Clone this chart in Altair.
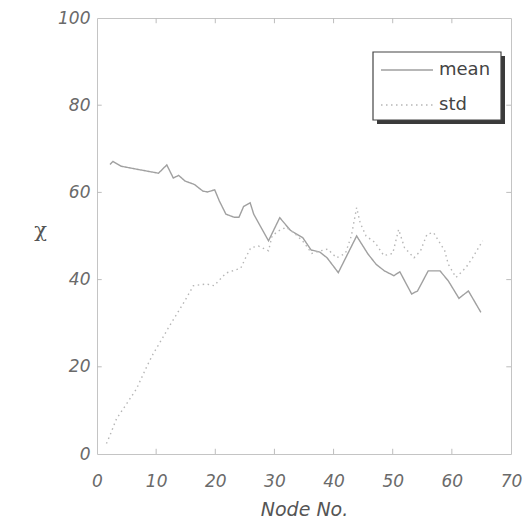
import altair as alt
import pandas as pd

# ---- data ----
mean_x = [2.2, 2.7, 4.1, 6.0, 8.8, 10.4, 11.8, 12.9, 13.8, 14.9, 16.5, 17.9, 18.7, 19.9,
          20.7, 21.8, 23.2, 24.0, 24.8, 25.9, 26.5, 27.6, 29.0, 30.9, 32.7, 34.8, 36.2,
          37.7, 38.9, 40.8, 43.9, 45.8, 47.2, 48.6, 50.2, 51.2, 53.2, 54.2, 56.0, 58.0,
          59.4, 61.2, 62.8, 64.9]
mean_y = [66.4, 67.1, 66.0, 65.5, 64.8, 64.4, 66.3, 63.3, 63.9, 62.6, 61.8, 60.3, 60.1, 60.6,
          58.0, 55.0, 54.3, 54.3, 56.8, 57.6, 55.0, 52.3, 48.9, 54.2, 51.3, 49.6, 46.8,
          46.3, 45.0, 41.6, 50.0, 45.9, 43.5, 42.0, 40.9, 41.8, 36.7, 37.4, 42.0, 42.0,
          39.7, 35.7, 37.4, 32.5]

std_x = [1.6, 2.2, 3.3, 5.2, 6.7, 8.5, 9.5, 11.0, 12.1, 14.7, 16.3, 18.5, 19.8, 21.8, 24.3,
         25.2, 26.0, 27.3, 29.0, 29.6, 30.6, 32.0, 33.5, 35.0, 36.3, 37.5, 39.0, 40.5,
         42.0, 43.0, 43.9, 44.5, 45.5, 47.0, 48.5, 50.0, 51.0, 52.0, 53.6, 54.7, 55.8,
         56.9, 58.8, 59.4, 60.7, 62.4, 63.5, 65.2]
std_y = [2.4, 4.3, 8.1, 11.9, 15.0, 20.3, 23.0, 26.4, 29.0, 34.8, 38.6, 39.0, 38.6, 41.5, 42.6,
         45.2, 47.3, 47.7, 46.6, 50.0, 51.1, 52.0, 50.5, 48.5, 46.0, 46.5, 47.0, 45.0,
         46.0, 50.0, 56.5, 53.0, 50.0, 48.5, 45.5, 46.0, 51.5, 47.3, 45.0, 46.6, 50.4,
         50.8, 46.6, 43.5, 40.5, 42.8, 45.0, 48.9]

series_names = ["mean", "std"]
series_colors = ["#a0a0a0", "#b6b6b6"]
series_dash = [[1, 0], [1.5, 3.5]]
x_ticks = [0, 10, 20, 30, 40, 50, 60, 70]
y_ticks = [0, 20, 40, 60, 80, 100]

rows = []
for i, (a, b) in enumerate(zip(mean_x, mean_y)):
    rows.append({"node": a, "val": b, "series": "mean", "ord": i})
for i, (a, b) in enumerate(zip(std_x, std_y)):
    rows.append({"node": a, "val": b, "series": "std", "ord": i})
df = pd.DataFrame(rows)

W, H = 414, 436
FONT = "DejaVu Sans"

xs = alt.Scale(domain=[0, 70], nice=False, zero=False)
ys = alt.Scale(domain=[0, 100], nice=False, zero=False)

lines = alt.Chart(df).mark_line(strokeWidth=1.4).encode(
    x=alt.X("node:Q", scale=xs, axis=alt.Axis(
        title="Node No.", values=x_ticks, ticks=False, domain=False, grid=False,
        labelFlush=False, labelOverlap=False,
        labelPadding=19, titlePadding=11, labelFontStyle="italic", titleFontStyle="italic",
        labelFontSize=17, titleFontSize=19, labelColor="#6a6a6a", titleColor="#555555",
        labelFont=FONT, titleFont=FONT, titleFontWeight="normal")),
    y=alt.Y("val:Q", scale=ys, axis=alt.Axis(
        title="χ", values=y_ticks, ticks=False, domain=False, grid=False,
        labelFlush=False, labelOverlap=False,
        labelPadding=7, labelFontStyle="italic", labelFontSize=17, labelColor="#6a6a6a",
        labelFont=FONT, titleFont="DejaVu Serif", titleFontSize=21, titleColor="#555555",
        titleFontWeight="normal", titleAngle=0, titleX=-57, titleY=212,
        titleAlign="center", titleBaseline="middle")),
    color=alt.Color("series:N", scale=alt.Scale(domain=series_names, range=series_colors),
                    legend=None),
    strokeDash=alt.StrokeDash("series:N", scale=alt.Scale(domain=series_names, range=series_dash),
                              legend=None),
    order="ord:Q",
)

# inward tick marks on the frame
tick_df_x = pd.DataFrame({"t": x_ticks[1:-1]})
tick_df_y = pd.DataFrame({"t": y_ticks[1:-1]})
tick_col = "#bdbdbd"
bt = alt.Chart(tick_df_x).mark_rule(color=tick_col).encode(
    x=alt.X("t:Q", scale=xs), y=alt.datum(0, scale=ys), y2=alt.datum(1.2))
tt = alt.Chart(tick_df_x).mark_rule(color=tick_col).encode(
    x=alt.X("t:Q", scale=xs), y=alt.datum(100, scale=ys), y2=alt.datum(98.8))
lt = alt.Chart(tick_df_y).mark_rule(color=tick_col).encode(
    y=alt.Y("t:Q", scale=ys), x=alt.datum(0, scale=xs), x2=alt.datum(0.8))
rt = alt.Chart(tick_df_y).mark_rule(color=tick_col).encode(
    y=alt.Y("t:Q", scale=ys), x=alt.datum(70, scale=xs), x2=alt.datum(69.2))

# hand-built legend (box with drop shadow), pixel positions inside the plot area
LX, LY, LW, LH = 276, 34, 128, 68
one = pd.DataFrame({"a": [0]})
shadow = alt.Chart(one).mark_rect(color="#3a3a3a").encode(
    x=alt.value(LX + 4), x2=alt.value(LX + LW + 4),
    y=alt.value(LY + 4), y2=alt.value(LY + LH + 4))
box = alt.Chart(one).mark_rect(fill="white", stroke="#444444", strokeWidth=1.2).encode(
    x=alt.value(LX), x2=alt.value(LX + LW),
    y=alt.value(LY), y2=alt.value(LY + LH))
leg_layers = [shadow, box]
for k, name in enumerate(series_names):
    yy = LY + 18 + 35 * k
    leg_layers.append(alt.Chart(one).mark_rule(
        color=series_colors[k], strokeDash=series_dash[k], strokeWidth=1.4).encode(
        x=alt.value(LX + 8), x2=alt.value(LX + 60), y=alt.value(yy)))
    leg_layers.append(alt.Chart(one).mark_text(
        text=name, align="left", baseline="middle", font=FONT, fontSize=18,
        color="#444444").encode(x=alt.value(LX + 66), y=alt.value(yy)))

chart = alt.layer(bt, tt, lt, rt, lines, *leg_layers).properties(
    width=W, height=H,
    padding={"left": 89, "top": 10, "right": 12, "bottom": 69},
    autosize=alt.AutoSizeParams(type="none"),
).configure_view(
    stroke="#c4c4c4", strokeWidth=1
)

chart.save("out.html", embed_options={"renderer": "svg", "actions": False})
